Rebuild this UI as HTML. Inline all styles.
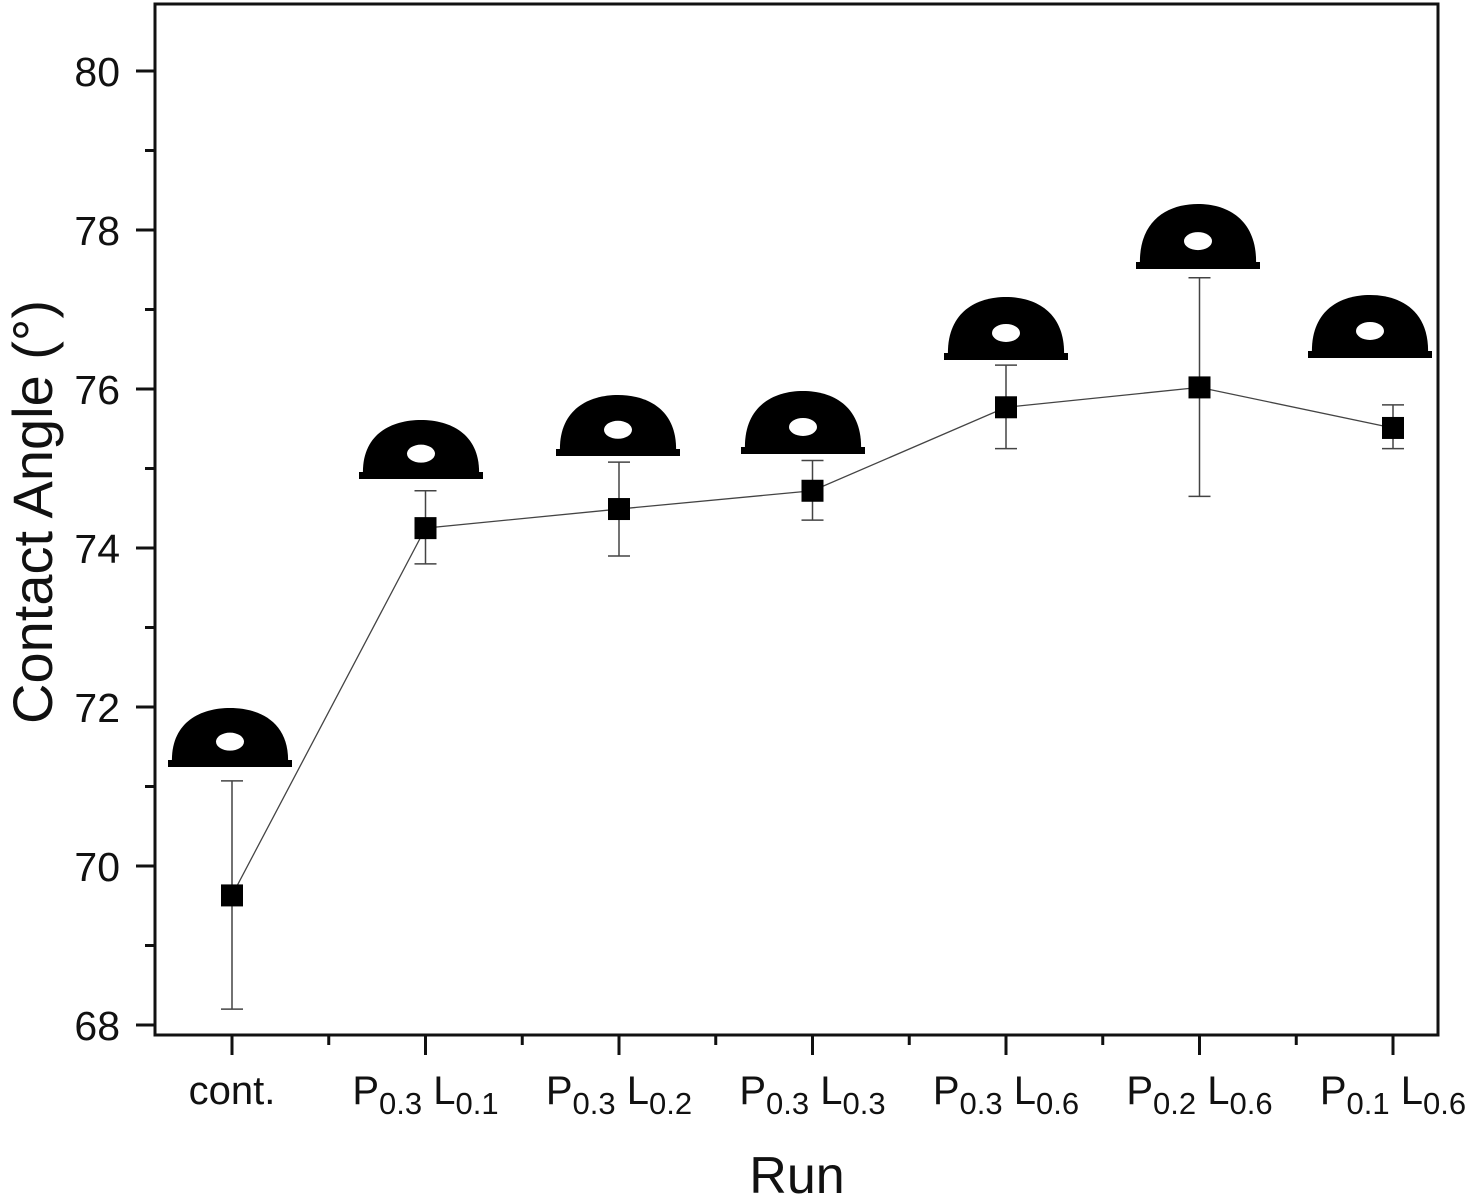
<!DOCTYPE html>
<html><head><meta charset="utf-8"><style>
html,body{margin:0;padding:0;background:#fff;}
svg{display:block;font-family:"Liberation Sans",Arial,sans-serif;}
</style></head><body>
<svg id="chart" width="1476" height="1199" viewBox="0 0 1476 1199">
<rect x="155" y="4" width="1283" height="1031" fill="none" stroke="#111" stroke-width="3"/>
<g id="yaxis"></g>
<g id="xaxis"></g>
<g id="drops"></g>
<g id="series"></g>
<text x="52" y="512" font-size="56" text-anchor="middle" transform="rotate(-90 52 512)" fill="#111">Contact Angle (°)</text>
<text x="797" y="1193" font-size="52" text-anchor="middle" fill="#111">Run</text>
</svg>
<script>
const categories = ["cont.", "P0.3L0.1", "P0.3L0.2", "P0.3L0.3", "P0.3L0.6", "P0.2L0.6", "P0.1L0.6"];
const pSub = [null, "0.3", "0.3", "0.3", "0.3", "0.2", "0.1"];
const lSub = [null, "0.1", "0.2", "0.3", "0.6", "0.6", "0.6"];
const values = [69.63, 74.25, 74.49, 74.72, 75.77, 76.02, 75.51];
const errLow = [68.2, 73.8, 73.9, 74.35, 75.25, 74.65, 75.25];
const errHigh = [71.07, 74.72, 75.08, 75.1, 76.3, 77.4, 75.8];
const yTicks = [68, 70, 72, 74, 76, 78, 80];

const NS = "http://www.w3.org/2000/svg";
function yS(v){ return 1025 - (v - 68) * 79.5; }
function xS(i){ return 232 + i * 193.5; }
function mk(tag, attrs, parent){ const e = document.createElementNS(NS, tag); for (const k in attrs) e.setAttribute(k, attrs[k]); parent.appendChild(e); return e; }

const ya = document.getElementById("yaxis");
yTicks.forEach(function(t){
  const y = yS(t);
  const tk = mk("line", {x1:136, x2:155, y1:y, y2:y, stroke:"#111", "stroke-width":3}, ya);
  
  
  const lb = mk("text", {x:120, y:y+15, "font-size":41, "text-anchor":"end", fill:"#111"}, ya);
  lb.textContent = t;
  
  
  if (t < 80) {
    const m = mk("line", {x1:145, x2:155, y1:yS(t+1), y2:yS(t+1), stroke:"#111", "stroke-width":3}, ya);
    
    
  }
});

const xa = document.getElementById("xaxis");
categories.forEach(function(c, i){
  const x = xS(i);
  const tk = mk("line", {x1:x, x2:x, y1:1035, y2:1055, stroke:"#111", "stroke-width":3}, xa);
  
  
  if (i < categories.length - 1) {
    const m = mk("line", {x1:x+96.75, x2:x+96.75, y1:1035, y2:1045, stroke:"#111", "stroke-width":3}, xa);
    
    
  }
  const lb = mk("text", {x:x, y:1104, "font-size":40, "text-anchor":"middle", fill:"#111"}, xa);
  
  
  if (pSub[i] === null) { lb.textContent = c; }
  else {
    const a = mk("tspan", {}, lb); a.textContent = "P";
    const b = mk("tspan", {"font-size":31, dy:10}, lb); b.textContent = pSub[i];
    const d = mk("tspan", {dy:-10}, lb); d.textContent = " L";
    const e = mk("tspan", {"font-size":31, dy:10}, lb); e.textContent = lSub[i];
  }
});

// droplet photo placement (image layout, not data)
const dropCx = [230, 421, 618, 803, 1006, 1198, 1370];
const dropBase = [766, 478, 455, 453, 359, 268, 357];
const dropH = [58, 58, 60, 62, 62, 64, 62];
const dr = document.getElementById("drops");
dropCx.forEach(function(cx, i){
  const base = dropBase[i], h = dropH[i];
  const g = mk("g", {}, dr);
  
  
  mk("rect", {x:cx-62, y:base-6, width:124, height:7, fill:"#000"}, g);
  mk("path", {d:"M"+(cx-58)+" "+(base-2)+" C"+(cx-60)+" "+(base-h*0.75)+" "+(cx-30)+" "+(base-h)+" "+cx+" "+(base-h)+" C"+(cx+30)+" "+(base-h)+" "+(cx+60)+" "+(base-h*0.75)+" "+(cx+58)+" "+(base-2)+" Z", fill:"#000"}, g);
  mk("ellipse", {cx:cx, cy:base-h*0.42, rx:14, ry:9, fill:"#fff"}, g);
});

const s = document.getElementById("series");
const pts = values.map(function(v, i){ return xS(i) + "," + yS(v); }).join(" ");
const ln = mk("polyline", {points:pts, fill:"none", stroke:"#444", "stroke-width":1.3}, s);


values.forEach(function(v, i){
  const x = xS(i);
  const eb = mk("g", {stroke:"#444", "stroke-width":1.5}, s);
  
  
  mk("line", {x1:x, x2:x, y1:yS(errLow[i]), y2:yS(errHigh[i])}, eb);
  mk("line", {x1:x-11, x2:x+11, y1:yS(errLow[i]), y2:yS(errLow[i])}, eb);
  mk("line", {x1:x-11, x2:x+11, y1:yS(errHigh[i]), y2:yS(errHigh[i])}, eb);
  const p = mk("rect", {x:x-11, y:yS(v)-11, width:22, height:22, fill:"#000"}, s);
  
  
});
</script>
</body></html>
